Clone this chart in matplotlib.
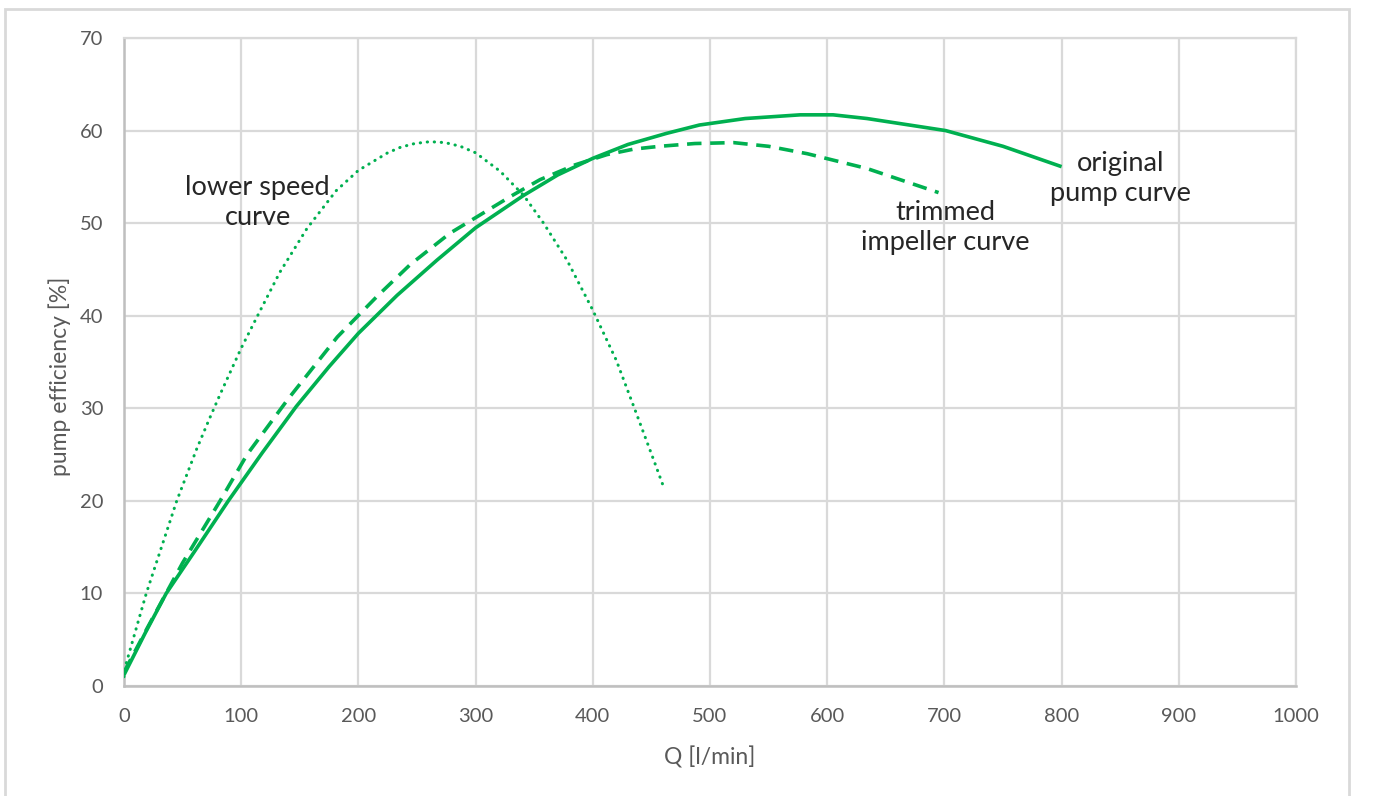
import matplotlib
matplotlib.use("Agg")
import matplotlib.pyplot as plt
from matplotlib.patches import Rectangle

# Flow rate Q [l/min] and pump efficiency [%] for each curve
q_original = [0, 18, 36, 60, 89, 118, 147, 175, 200, 233, 267, 300, 341, 370, 400,
              430, 463, 491, 530, 577, 605, 634, 701, 750, 800]
eff_original = [1.2, 5.7, 10.0, 14.5, 20.0, 25.2, 30.2, 34.5, 38.1, 42.2, 46.0, 49.5, 53.0, 55.2, 57.0,
                58.5, 59.7, 60.6, 61.3, 61.7, 61.7, 61.3, 60.0, 58.3, 56.1]

q_trimmed = [0, 20, 50, 82, 105, 140, 182, 216, 244, 278, 304, 330, 355, 385, 412, 435,
             457, 487, 520, 550, 583, 634, 695]
eff_trimmed = [1.5, 6.3, 13.3, 20.0, 25.0, 31.0, 37.7, 42.1, 45.5, 48.9, 50.9, 52.9, 54.7, 56.3, 57.4, 58.0,
               58.3, 58.6, 58.7, 58.3, 57.5, 55.9, 53.3]

q_lower = [0, 2, 19, 45, 62, 73, 82, 100, 116, 133, 156, 181, 200, 225, 236, 248, 261, 274, 287, 300,
           321, 341, 358, 378, 400, 420, 437, 452, 461]
eff_lower = [1.0, 2.5, 10.0, 20.0, 25.6, 28.9, 31.5, 36.5, 40.5, 44.7, 49.4, 53.5, 55.7, 57.6, 58.2, 58.6, 58.8, 58.7,
             58.3, 57.6, 55.6, 53.0, 50.0, 46.0, 40.6, 35.2, 29.5, 24.4, 21.3]

x_ticks = [0, 100, 200, 300, 400, 500, 600, 700, 800, 900, 1000]
y_ticks = [0, 10, 20, 30, 40, 50, 60, 70]

GREEN = "#00B050"
GRID = "#D9D9D9"
TEXT = "#595959"

plt.rcParams["font.family"] = ["Lato", "DejaVu Sans"]

fig = plt.figure(figsize=(13.73, 7.96), dpi=100)
ax = fig.add_axes([124 / 1373, 1 - 686 / 796, (1296 - 124) / 1373, (686 - 38) / 796])

# Outer chart frame
fig.patches.append(Rectangle((5 / 1373, -0.05), (1349 - 5) / 1373, 1.05 - 9 / 796,
                             transform=fig.transFigure, fill=False,
                             edgecolor=GRID, linewidth=2.0, zorder=0))

ax.plot(q_original, eff_original, color=GREEN, lw=2.6, solid_capstyle="butt",
        solid_joinstyle="round", zorder=3)
ax.plot(q_trimmed, eff_trimmed, color=GREEN, lw=2.6, linestyle=(0, (4.0, 2.4)),
        dash_capstyle="butt", zorder=3)
ax.plot(q_lower, eff_lower, color=GREEN, lw=2.2, linestyle=(0, (0.1, 2.2)),
        dash_capstyle="round", zorder=3)

ax.set_xlim(0, 1000)
ax.set_ylim(0, 70)
ax.set_xticks(x_ticks)
ax.set_yticks(y_ticks)
ax.grid(True, color=GRID, linewidth=1.6)
ax.set_axisbelow(True)
ax.tick_params(length=0, labelsize=14.5, labelcolor=TEXT)
ax.tick_params(axis="x", pad=16)
ax.tick_params(axis="y", pad=15)
for side in ("top", "right"):
    ax.spines[side].set_color(GRID)
    ax.spines[side].set_linewidth(1.6)
for side in ("left", "bottom"):
    ax.spines[side].set_color("#BFBFBF")
    ax.spines[side].set_linewidth(1.8)

ax.set_xlabel("Q [l/min]", fontsize=16.5, color=TEXT, va="center")
ax.set_ylabel("pump efficiency [%]", fontsize=16.5, color=TEXT, va="center")
ax.xaxis.set_label_coords(0.5, -(757 - 686) / 648)
ax.yaxis.set_label_coords(-(124 - 60) / 1172, 0.478)

ann = dict(fontsize=19.5, color="#262626", ha="center", va="center", linespacing=1.25)
ax.text(114, 52.2, "lower speed\ncurve", **ann)
ax.text(701, 49.5, "trimmed\nimpeller curve", **ann)
ax.text(850, 54.8, "original\npump curve", **ann)

fig.savefig("out.png", dpi=100)
